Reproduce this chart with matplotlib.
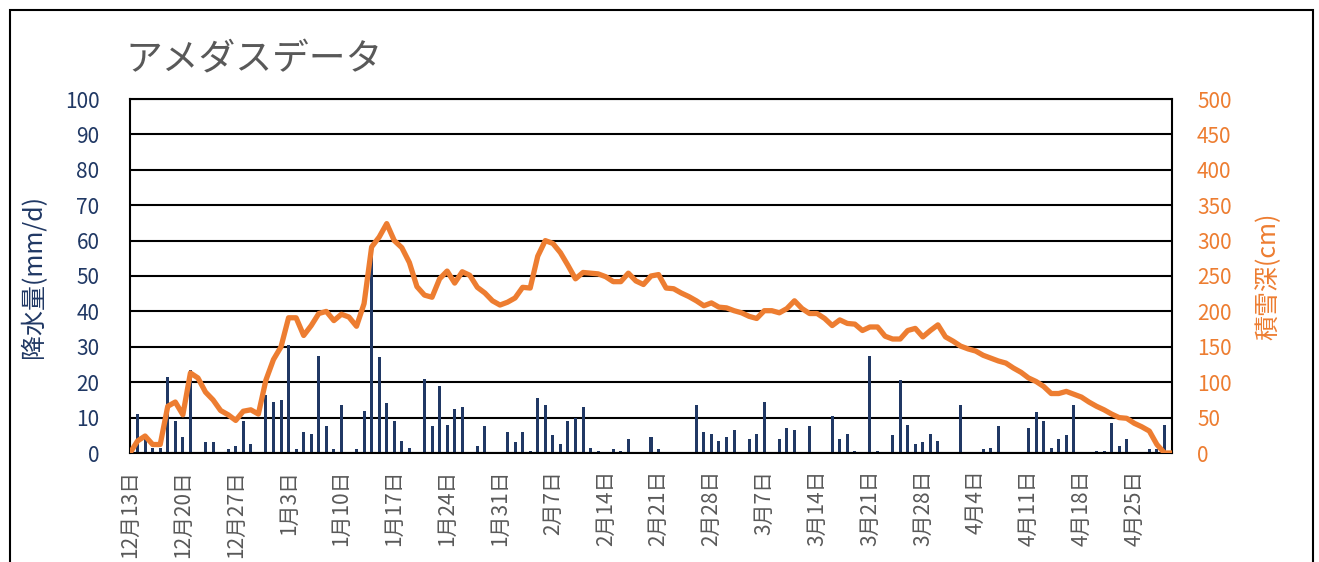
import matplotlib
matplotlib.use("Agg")
import matplotlib.pyplot as plt
import pandas as pd
from matplotlib.patches import Rectangle

plt.rcParams['font.family'] = ['Noto Sans CJK JP', 'DejaVu Sans']

# daily data, 2020-12-13 .. 2021-04-30
dates = pd.date_range("2020-12-13", "2021-04-30", freq="D")

precip = [
    0, 11, 4, 1.5, 1.5, 21.5, 9, 4.5, 23.5, 0,
    3, 3, 0, 1, 2, 9, 2.5, 0, 16.5, 14.5,
    15, 30.5, 1, 6, 5.5, 27.5, 7.5, 1, 13.5, 0,
    1, 12, 58, 27, 14, 9, 3.5, 1.5, 0, 21,
    7.5, 19, 8, 12.5, 13, 0, 2, 7.5, 0, 0,
    6, 3, 6, 0.5, 15.5, 13.5, 5, 2.5, 9, 10,
    13, 1.5, 0.5, 0, 1, 0.5, 4, 0, 0, 4.5,
    1, 0, 0, 0, 0, 13.5, 6, 5.5, 3.5, 4.5,
    6.5, 0, 4, 5.5, 14.5, 0, 4, 7, 6.5, 0,
    7.5, 0, 0, 10.5, 4, 5.5, 0.5, 0, 27.5, 0.5,
    0, 5, 20.5, 8, 2.5, 3, 5.5, 3.5, 0, 0,
    13.5, 0, 0, 1, 1.5, 7.5, 0, 0, 0, 7,
    11.5, 9, 1.5, 4, 5, 13.5, 0, 0, 0.5, 0.5,
    8.5, 2, 4, 0, 0, 1, 1, 8, 0,
]

snow = [
    0, 17, 24, 12, 12, 66, 72, 54, 113, 106,
    86, 75, 60, 54, 46, 59, 61, 55, 103, 132,
    150, 191, 191, 166, 180, 197, 200, 187, 196, 192,
    179, 211, 291, 305, 324, 300, 290, 269, 235, 223,
    220, 246, 257, 240, 256, 251, 234, 226, 215, 209,
    213, 219, 234, 233, 278, 300, 296, 283, 265, 246,
    255, 254, 253, 249, 242, 242, 254, 243, 238, 250,
    252, 233, 232, 226, 221, 215, 208, 212, 206, 205,
    201, 198, 193, 190, 201, 201, 198, 204, 215, 204,
    197, 197, 190, 180, 188, 183, 182, 173, 178, 178,
    165, 161, 161, 173, 176, 164, 173, 181, 164, 158,
    151, 147, 144, 138, 134, 130, 127, 120, 114, 106,
    101, 94, 84, 84, 87, 83, 79, 72, 66, 61,
    55, 50, 49, 42, 37, 31, 12, 0, 0,
]

labels = [f"{d.month}月{d.day}日" for d in dates]
x = list(range(len(dates)))

navy = "#203864"
orange = "#ED7D31"
gray = "#595959"

fig = plt.figure(figsize=(13.19, 5.62), dpi=100)
fig.subplots_adjust(left=130/1319, right=1172/1319, top=1-99/562, bottom=1-453/562)
ax = fig.add_subplot(111)

# outer chart frame
fig.patches.append(Rectangle((10/1319, -0.1), 1303/1319, 1.1 - 10/562,
                             transform=fig.transFigure, fill=False,
                             edgecolor="black", linewidth=1.5))

ax.bar(x, precip, width=0.4, color=navy, zorder=2)
ax.set_xlim(0, len(x) - 1)
ax.set_ylim(0, 100)
ax.set_yticks(range(0, 101, 10))
ax.yaxis.grid(True, color="black", linewidth=1.5, zorder=0)
ax.set_axisbelow(True)
ax.tick_params(axis="y", colors=navy, labelsize=15, length=0, pad=22)
ax.set_ylabel("降水量(mm/d)", color=navy, fontsize=18)
ax.yaxis.set_label_coords(-0.0797, 0.5)

ax.set_xticks(x[::7])
ax.set_xticklabels(labels[::7], rotation=90, color=gray, fontsize=15)
ax.tick_params(axis="x", length=0, pad=12)

for s in ax.spines.values():
    s.set_color("black")
    s.set_linewidth(1.5)

ax2 = ax.twinx()
ax2.plot(x, snow, color=orange, linewidth=3.8, solid_joinstyle="round", zorder=3)
ax2.set_ylim(0, 500)
ax2.set_yticks(range(0, 501, 50))
ax2.tick_params(axis="y", colors=orange, labelsize=15, length=0, pad=18)
ax2.set_ylabel("積雪深(cm)", color=orange, fontsize=18)
ax2.yaxis.set_label_coords(1.0797, 0.5)
for s in ax2.spines.values():
    s.set_visible(False)

fig.text(125/1319, 1 - 60/562, "アメダスデータ", color=gray, fontsize=26.5,
         ha="left", va="center")

fig.savefig("out.png", dpi=100)
